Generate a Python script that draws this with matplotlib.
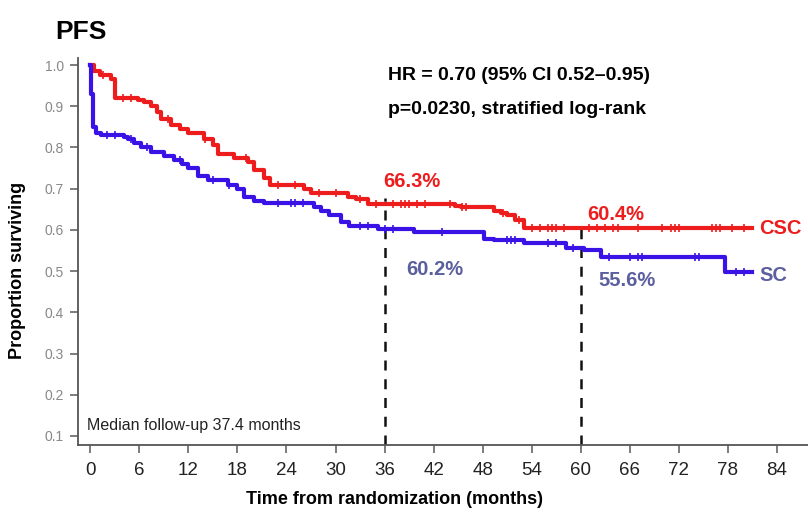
import matplotlib
matplotlib.use('Agg')
import matplotlib.pyplot as plt

plt.rcParams["font.family"] = ["Liberation Sans Narrow", "Liberation Sans", "DejaVu Sans"]

# Kaplan-Meier step data (months, proportion surviving)
csc_t = [0, 0.4, 1.2, 2.5, 3.0, 5.8, 6.6, 7.4, 8.2, 8.7, 9.9, 11.0, 12.0, 13.9, 15.0,
         15.6, 17.6, 19.3, 20.0, 21.3, 22.0, 26.2, 27.0, 31.5, 32.5, 34.0, 44.6, 45.4,
         49.4, 50.2, 51.0, 51.9, 53.1, 80.9]
csc_s = [1.0, 0.985, 0.975, 0.965, 0.92, 0.915, 0.91, 0.90, 0.885, 0.87, 0.855, 0.845,
         0.835, 0.82, 0.805, 0.785, 0.775, 0.765, 0.745, 0.725, 0.71, 0.70, 0.69, 0.68,
         0.675, 0.663, 0.658, 0.655, 0.645, 0.64, 0.635, 0.625, 0.604, 0.604]
sc_t = [0, 0.1, 0.3, 0.7, 1.3, 4.1, 4.6, 5.4, 6.2, 7.4, 9.0, 10.3, 11.2, 12.0, 13.2,
        14.4, 16.8, 18.0, 18.8, 20.0, 21.3, 27.4, 28.2, 29.2, 30.7, 31.6, 35.2, 39.6,
        48.2, 49.4, 53.0, 58.2, 60.4, 62.5, 77.6, 80.9]
sc_s = [1.0, 0.93, 0.85, 0.835, 0.83, 0.825, 0.82, 0.81, 0.80, 0.79, 0.78, 0.77, 0.76,
        0.75, 0.73, 0.72, 0.71, 0.70, 0.68, 0.67, 0.665, 0.655, 0.645, 0.635, 0.62,
        0.61, 0.602, 0.594, 0.579, 0.575, 0.567, 0.556, 0.55, 0.534, 0.497, 0.497]

# censoring marks
csc_cens = [1.5, 4, 5, 9.5, 14, 19, 23, 25, 28, 30, 33, 35, 37, 38, 38.5, 39, 40, 41,
            44, 45.5, 46, 50.5, 52.5, 54, 55, 56, 56.5, 57, 58, 61, 62, 63, 64, 64.5,
            67, 70, 71, 71.5, 72, 76, 76.5, 77, 78.5, 80]
sc_cens = [2, 3, 5, 7, 11, 15, 17, 23, 24.5, 25, 26, 33, 34, 36, 37, 43, 51, 51.5, 52,
           56, 57, 59, 63.5, 66, 67, 67.5, 74, 74.5, 79, 80]

landmarks = [36, 60]
csc_pct = ["66.3%", "60.4%"]
sc_pct = ["60.2%", "55.6%"]

red = "#ee1d1d"
blue = "#3b12e6"
slate = "#5b5f9e"


def surv_at(t_list, s_list, t):
    val = s_list[0]
    for ti, si in zip(t_list, s_list):
        if ti <= t:
            val = si
    return val


fig = plt.figure(figsize=(8.08, 5.16), dpi=100)
ax = fig.add_axes([78 / 808, 71 / 516, 730 / 808, 387 / 516])

ax.step(csc_t, csc_s, where="post", color=red, lw=3.0, zorder=3)
ax.step(sc_t, sc_s, where="post", color=blue, lw=3.0, zorder=3)
ax.plot(csc_cens, [surv_at(csc_t, csc_s, c) for c in csc_cens], ls="none",
        marker="|", ms=6, mew=1.2, color=red, zorder=4)
ax.plot(sc_cens, [surv_at(sc_t, sc_s, c) for c in sc_cens], ls="none",
        marker="|", ms=6, mew=1.2, color=blue, zorder=4)

# landmark lines
ax.vlines(landmarks[0], 0.078, 0.678, colors="#111111", linestyles=(0, (4, 3.5)), lw=1.8)
ax.vlines(landmarks[1], 0.078, 0.608, colors="#111111", linestyles=(0, (4, 3.5)), lw=1.8)

ax.set_xlim(-1.5, 87.8)
ax.set_ylim(0.078, 1.017)
ax.set_xticks(range(0, 85, 6))
ax.set_yticks([0.1, 0.2, 0.3, 0.4, 0.5, 0.6, 0.7, 0.8, 0.9, 1.0])
ax.set_yticklabels(["0.1", "0.2", "0.3", "0.4", "0.5", "0.6", "0.7", "0.8", "0.9", "1.0"])
for s in ["top", "right"]:
    ax.spines[s].set_visible(False)
for s in ["left", "bottom"]:
    ax.spines[s].set_color("#555555")
    ax.spines[s].set_linewidth(1.3)
ax.tick_params(axis="x", direction="out", length=6, width=1.2, color="#666666",
               labelsize=13.5, labelcolor="#222222", pad=6)
ax.tick_params(axis="y", direction="out", length=6, width=1.2, color="#666666",
               labelsize=10, labelcolor="#888888", pad=4)

ax.set_xlabel("Time from randomization (months)", fontsize=13, fontweight="bold")
ax.xaxis.set_label_coords(316 / 730, -46 / 387)
ax.set_ylabel("Proportion surviving", fontsize=13, fontweight="bold")
ax.yaxis.set_label_coords(-52 / 730, 175 / 387)

fig.text(55 / 808, 1 - 32 / 516, "PFS", fontsize=19, fontweight="bold", va="center")
fig.text(388 / 808, 1 - 76 / 516, "HR = 0.70 (95% CI 0.52\u20130.95)", fontsize=14,
         fontweight="bold", va="center")
fig.text(388 / 808, 1 - 110 / 516, "p=0.0230, stratified log-rank", fontsize=14,
         fontweight="bold", va="center")

ax.text(landmarks[0] - 0.2, 0.705, csc_pct[0], color=red, fontsize=14.5, fontweight="bold")
ax.text(landmarks[1] + 0.8, 0.625, csc_pct[1], color=red, fontsize=14.5, fontweight="bold")
ax.text(landmarks[0] + 2.6, 0.49, sc_pct[0], color=slate, fontsize=14.5, fontweight="bold")
ax.text(landmarks[1] + 2.2, 0.465, sc_pct[1], color=slate, fontsize=14.5, fontweight="bold")
ax.text(81.8, 0.604, "CSC", color=red, fontsize=14.5, fontweight="bold", va="center")
ax.text(81.8, 0.49, "SC", color=slate, fontsize=14.5, fontweight="bold", va="center")

ax.text(-0.4, 0.115, "Median follow-up 37.4 months", fontsize=11.5, color="#222222")

fig.savefig("out.png", dpi=100)
